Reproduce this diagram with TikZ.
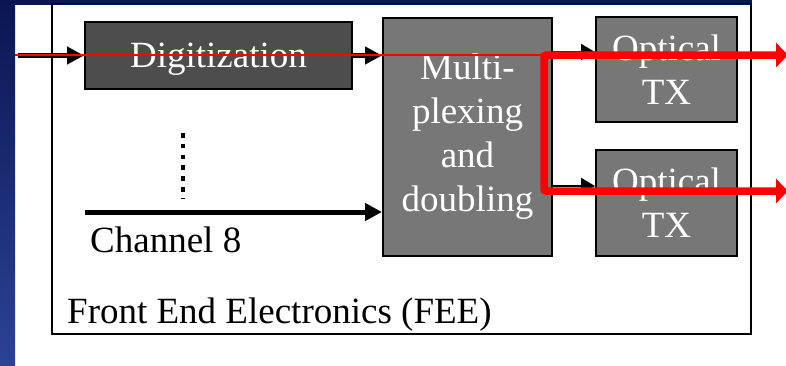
\documentclass[tikz,border=0pt]{standalone}
\usepackage{fontspec}
\setmainfont{Liberation Serif}
\usetikzlibrary{arrows.meta}
\definecolor{navy}{HTML}{0A1652}
\definecolor{navylight}{HTML}{2C4296}
\definecolor{darkbox}{HTML}{4D4D4D}
\definecolor{midbox}{HTML}{777777}
\definecolor{sigred}{HTML}{FF0000}
\tikzset{
  bigfont/.style={font=\fontsize{37}{44}\selectfont},
  blockdark/.style={draw=black, line width=2pt, fill=darkbox, text=white, bigfont, inner sep=0pt, align=center},
  blockmid/.style={draw=black, line width=2pt, fill=midbox, text=white, bigfont, inner sep=0pt, align=center},
  thickarrow/.style={line width=5pt, -{Triangle[length=17pt,width=17pt]}},
  thinarrow/.style={line width=2pt, -{Triangle[length=14pt,width=16pt]}},
  redline/.style={draw=sigred, line width=2pt},
  redthick/.style={draw=sigred, line width=7.5pt, rounded corners=2pt, {Triangle[length=12pt,width=24pt]}-{Triangle[length=12pt,width=24pt]}},
}
\begin{document}
\begin{tikzpicture}[x=1pt,y=-1pt]
\useasboundingbox (0,0) rectangle (786,365);
\fill[white] (0,0) rectangle (786,365);
% blue frame of the slide
\shade[top color=navy, bottom color=navylight] (0,0) rectangle (15,365);
\fill[navy] (0,0) rectangle (752,4.5);
% outer FEE box
\node[draw=black, line width=1.6pt, minimum width=699pt, minimum height=330.5pt, inner sep=0pt] (fee) at (401.5,168.75) {};
\node[bigfont, anchor=base west, inner sep=0pt] (feelabel) at (67,323) {Front End Electronics (FEE)};
% blocks
\node[blockdark, text depth=0pt, minimum width=267pt, minimum height=67pt] (dig) at (218.5,55.5) {Digitization};
\node[blockmid, minimum width=169pt, minimum height=238pt] (mux) at (467.5,137) {Multi-\\plexing\\and\\doubling};
\node[blockmid, minimum width=141pt, minimum height=105pt] (ot1) at (666.5,69.5) {Optical\\TX};
\node[blockmid, minimum width=141pt, minimum height=106pt] (ot2) at (666.5,203) {Optical\\TX};
\node[bigfont, anchor=base west, inner sep=0pt] (chlabel) at (90,252) {Channel 8};
% coordinates
\coordinate (in1) at (18,55.5);
\coordinate (ch8) at (85,212);
\coordinate (dotA) at (183,133);
\coordinate (dotB) at (183,199);
\coordinate (redin) at (15,54.5);
\coordinate (rc1) at (544,55);
\coordinate (rc2) at (544,191);
\coordinate (rout1) at (788,55);
\coordinate (rout2) at (788,191);
% black connectors
\draw[thickarrow] (in1) -- (dig.west);
\draw[thickarrow] (dig.east) -- (mux.west |- dig.east);
\draw[thickarrow] (ch8) -- (mux.west |- ch8);
\draw[thinarrow] (mux.east |- 0,52) -- (ot1.west |- 0,52);
\draw[thinarrow] (mux.east |- 0,186) -- (ot2.west |- 0,186);
\draw[line width=4.5pt, dash pattern=on 4.5pt off 6.3pt] (dotA) -- (dotB);
% red signal path
\draw[redline] (redin) -- (rc1 |- redin);
\draw[redthick] (rout1) -- (rc1) -- (rc2) -- (rout2);
\end{tikzpicture}
\end{document}
